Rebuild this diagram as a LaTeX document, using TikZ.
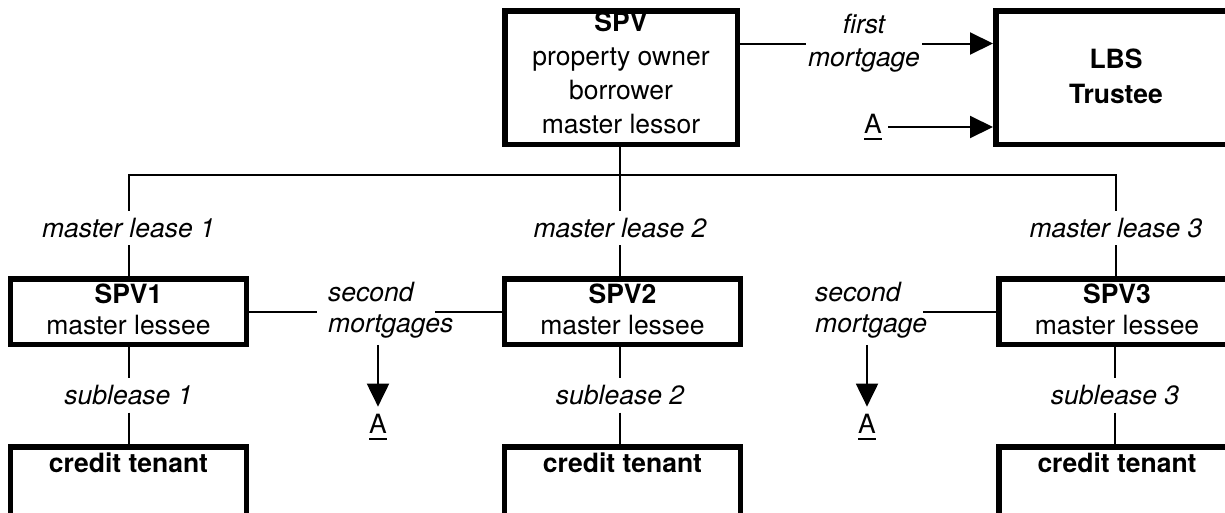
\documentclass[tikz,border=0pt]{standalone}
\usepackage{fontspec}
\setmainfont{TeX Gyre Heros}
\usetikzlibrary{arrows.meta}
\newcommand\myA{\setbox0\hbox{A}\leavevmode\rlap{\rule[-6pt]{\wd0}{2pt}}\box0}
\begin{document}
\fontsize{26.5}{33}\selectfont
\begin{tikzpicture}[x=1pt,y=-1pt,
  box/.style={draw, line width=5.5pt, inner sep=0pt, align=center},
  smallbox/.style={box, minimum width=236pt, minimum height=65.5pt, text depth=5pt,
    font=\fontsize{26.5}{31}\selectfont},
  tenant/.style={box, anchor=north, minimum width=236pt, inner ysep=6.25pt,
    text height=19pt, text depth=37pt, font=\bfseries},
  conn/.style={line width=2pt},
  arr/.style={line width=2pt, -{Triangle[length=23pt,width=22pt]}},
  lab/.style={inner xsep=2pt, inner ysep=7pt, font=\itshape, align=center},
  sm/.style={anchor=west, inner xsep=11pt, inner ysep=6pt, align=left,
    font=\fontsize{26.5}{31}\selectfont\itshape},
  amark/.style={inner xsep=6pt, inner ysep=7.5pt}]
\useasboundingbox (0,0) rectangle (1225,512);
\clip (0,0) rectangle (1225,512);
\fill[white] (0,0) rectangle (1225,512);

% top level
\node[box, minimum width=232.5pt, minimum height=133.5pt, text depth=9pt,
  font=\fontsize{26.5}{34}\selectfont] (spv) at (621,77.5)
  {\textbf{SPV}\\property owner\\borrower\\master lessor};
\node[box, minimum width=240.5pt, minimum height=133.5pt, text depth=3pt,
  font=\fontsize{26.5}{35}\selectfont\bfseries] (lbs) at (1116,77.5) {LBS\\Trustee};

\node[lab] (fm) at (864,43.5) {first\\mortgage};
\node[amark] (a1) at (873,127) {\myA};

\draw[conn] (spv.east |- fm) -- (fm.west);
\draw[arr] (fm.east) -- (fm.east -| lbs.west);
\draw[arr] (a1.east) -- (a1 -| lbs.west);

% bus
\coordinate (b1) at (128.5,175);
\coordinate (b2) at (620,175);
\coordinate (b3) at (1116,175);

\node[lab] (ml1) at (128.5,228) {master lease 1};
\node[lab] (ml2) at (620,228) {master lease 2};
\node[lab] (ml3) at (1116,228) {master lease 3};

\draw[conn] (ml1.north) -- (b1) -- (b3) -- (ml3.north);
\draw[conn] (spv.south -| b2) -- (b2) -- (ml2.north);

% master lessees
\node[smallbox] (spv1) at (128.5,311.5) {\textbf{SPV1}\\master lessee};
\node[smallbox] (spv2) at (622.5,311.5) {\textbf{SPV2}\\master lessee};
\node[smallbox] (spv3) at (1117,311.5) {\textbf{SPV3}\\master lessee};

\draw[conn] (ml1.south) -- (ml1.south |- spv1.north);
\draw[conn] (ml2.south) -- (ml2.south |- spv2.north);
\draw[conn] (ml3.south) -- (ml3.south |- spv3.north);

% second mortgages
\node[sm] (sm1) at (317,310.6) {second\\mortgages};
\node[sm] (sm3) at (804,310.6) {second\\mortgage};
\coordinate (sm1r) at (435,311.5);
\coordinate (sm3r) at (923,311.5);

\draw[conn] (spv1.east) -- (spv1.east -| sm1.west);
\draw[conn] (sm1r) -- (sm1r -| spv2.west);
\draw[conn] (sm3r) -- (sm3r -| spv3.west);

\node[amark] (a2) at (378,427) {\myA};
\node[amark] (a3) at (867,427) {\myA};
\draw[arr] (a2 |- sm1.south) -- (a2.north);
\draw[arr] (a3 |- sm3.south) -- (a3.north);

% subleases
\node[lab] (sl1) at (128.5,395.5) {sublease 1};
\node[lab] (sl2) at (620,395.5) {sublease 2};
\node[lab] (sl3) at (1115,395.5) {sublease 3};

\node[tenant] (ct1) at (128.5,444) {credit tenant};
\node[tenant] (ct2) at (622.5,444) {credit tenant};
\node[tenant] (ct3) at (1117,444) {credit tenant};

\draw[conn] (sl1 |- spv1.south) -- (sl1.north);
\draw[conn] (sl2 |- spv2.south) -- (sl2.north);
\draw[conn] (sl3 |- spv3.south) -- (sl3.north);
\draw[conn] (sl1.south) -- (sl1.south |- ct1.north);
\draw[conn] (sl2.south) -- (sl2.south |- ct2.north);
\draw[conn] (sl3.south) -- (sl3.south |- ct3.north);
\end{tikzpicture}
\end{document}
